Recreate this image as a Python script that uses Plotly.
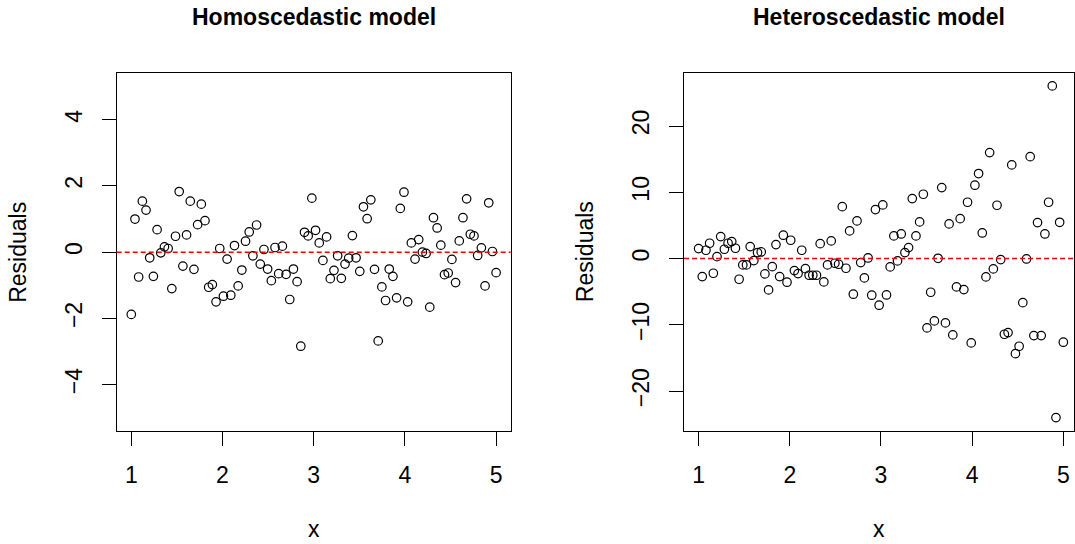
import plotly.graph_objects as go

# x grid (evenly spaced 1..5, 100 points)
x_vals = [1.0000, 1.0404, 1.0808, 1.1212, 1.1616, 1.2020, 1.2424, 1.2828, 1.3232, 1.3636,
          1.4040, 1.4444, 1.4848, 1.5253, 1.5657, 1.6061, 1.6465, 1.6869, 1.7273, 1.7677,
          1.8081, 1.8485, 1.8889, 1.9293, 1.9697, 2.0101, 2.0505, 2.0909, 2.1313, 2.1717,
          2.2121, 2.2525, 2.2929, 2.3333, 2.3737, 2.4141, 2.4545, 2.4949, 2.5354, 2.5758,
          2.6162, 2.6566, 2.6970, 2.7374, 2.7778, 2.8182, 2.8586, 2.8990, 2.9394, 2.9798,
          3.0202, 3.0606, 3.1010, 3.1414, 3.1818, 3.2222, 3.2626, 3.3030, 3.3434, 3.3838,
          3.4242, 3.4646, 3.5051, 3.5455, 3.5859, 3.6263, 3.6667, 3.7071, 3.7475, 3.7879,
          3.8283, 3.8687, 3.9091, 3.9495, 3.9899, 4.0303, 4.0707, 4.1111, 4.1515, 4.1919,
          4.2323, 4.2727, 4.3131, 4.3535, 4.3939, 4.4343, 4.4747, 4.5152, 4.5556, 4.5960,
          4.6364, 4.6768, 4.7172, 4.7576, 4.7980, 4.8384, 4.8788, 4.9192, 4.9596, 5.0000]

homo_resid = [-1.88, 1.00, -0.75, 1.54, 1.27, -0.17, -0.73, 0.68, -0.02, 0.16,
              0.11, -1.10, 0.48, 1.83, -0.42, 0.52, 1.54, -0.52, 0.83, 1.45,
              0.95, -1.06, -0.98, -1.50, 0.11, -1.33, -0.21, -1.30, 0.20, -1.02,
              -0.54, 0.33, 0.61, -0.11, 0.82, -0.36, 0.08, -0.51, -0.86, 0.14,
              -0.65, 0.18, -0.67, -1.43, -0.51, -0.89, -2.84, 0.60, 0.49, 1.63,
              0.66, 0.28, -0.25, 0.46, -0.80, -0.55, -0.11, -0.79, -0.36, -0.18,
              0.50, -0.17, -0.58, 1.37, 1.01, 1.58, -0.52, -2.68, -1.05, -1.46,
              -0.51, -0.73, -1.38, 1.32, 1.81, -1.50, 0.28, -0.21, 0.38, 0.00,
              -0.04, -1.66, 1.04, 0.73, 0.21, -0.68, -0.63, -0.22, -0.92, 0.34,
              1.04, 1.61, 0.54, 0.49, -0.10, 0.13, -1.02, 1.49, 0.02, -0.62]

hetero_resid = [1.51, -2.71, 1.26, 2.32, -2.21, 0.30, 3.32, 1.41, 2.32, 2.57,
                1.56, -3.11, -0.95, -0.95, 1.81, -0.30, 0.91, 1.01, -2.31, -4.72,
                -1.21, 2.11, -2.71, 3.53, -3.56, 2.77, -1.81, -2.26, 1.26, -1.51,
                -2.51, -2.51, -2.51, 2.26, -3.51, -0.95, 2.67, -0.70, -0.85, 7.84,
                -1.45, 4.18, -5.37, 5.69, -0.60, -2.91, 0.10, -5.52, 7.39, -7.03,
                8.10, -5.48, -1.25, 3.42, -0.35, 3.72, 0.91, 1.66, 9.05, 3.42,
                5.54, 9.71, -10.45, -5.07, -9.40, 0.05, 10.71, -9.70, 5.23, -11.51,
                -4.27, 6.03, -4.67, 8.50, -12.71, 11.07, 12.83, 3.87, -2.76, 15.99,
                -1.55, 8.05, -0.15, -11.41, -11.16, 14.13, -14.33, -13.22, -6.64, -0.05,
                15.38, -11.61, 5.43, -11.61, 3.72, 8.50, 26.05, -23.98, 5.48, -12.61]

x_ticks = [1, 2, 3, 4, 5]
x_ticktext = ["1", "2", "3", "4", "5"]
homo_yticks = [-4, -2, 0, 2, 4]
homo_yticktext = ["\u22124", "\u22122", "0", "2", "4"]
hetero_yticks = [-20, -10, 0, 10, 20]
hetero_yticktext = ["\u221220", "\u221210", "0", "10", "20"]
titles = ["Homoscedastic model", "Heteroscedastic model"]

W, H = 1075, 544
FONT = "Liberation Sans, Arial, Helvetica, sans-serif"
TICK_SIZE = 23
LAB_SIZE = 23
MAIN_SIZE = 23

# plot areas in pixels
left_px = (116.7, 510.7)
right_px = (684.0, 1074.0)
top_px, bot_px = 73.3, 431.0
ydom = [1 - bot_px / H, 1 - top_px / H]

fig = go.Figure()
marker = dict(symbol="circle-open", size=8.5, color="black", line=dict(width=1.2, color="black"))
fig.add_trace(go.Scatter(x=x_vals, y=homo_resid, mode="markers", marker=marker,
                         xaxis="x", yaxis="y", showlegend=False))
fig.add_trace(go.Scatter(x=x_vals, y=hetero_resid, mode="markers", marker=marker,
                         xaxis="x2", yaxis="y2", showlegend=False))

axis_common = dict(showline=True, mirror=True, linecolor="black", linewidth=1,
                   ticks="outside", ticklen=14, tickwidth=1, tickcolor="black",
                   showgrid=False, zeroline=False,
                   tickfont=dict(family=FONT, size=TICK_SIZE, color="black"))

fig.update_layout(
    width=W, height=H,
    margin=dict(l=0, r=0, t=0, b=0),
    paper_bgcolor="white", plot_bgcolor="white",
    xaxis=dict(domain=[left_px[0] / W, left_px[1] / W], range=[0.84, 5.16],
               tickvals=x_ticks, ticktext=x_ticktext, anchor="y",
               ticklabelstandoff=9, **axis_common),
    yaxis=dict(domain=ydom, range=[-5.4, 5.4], tickvals=homo_yticks,
               ticktext=homo_yticktext, tickangle=-90, anchor="x",
               ticklabelstandoff=11, **axis_common),
    xaxis2=dict(domain=[right_px[0] / W, right_px[1] / W], range=[0.84, 5.117],
                tickvals=x_ticks, ticktext=x_ticktext, anchor="y2",
                ticklabelstandoff=9, **axis_common),
    yaxis2=dict(domain=ydom, range=[-26.0, 27.95], tickvals=hetero_yticks,
                ticktext=hetero_yticktext, tickangle=-90, anchor="x2",
                ticklabelstandoff=11, **axis_common),
)

for xr, yr in (("x", "y"), ("x2", "y2")):
    fig.add_shape(type="line", xref=f"{xr} domain", x0=0, x1=1, yref=yr, y0=0, y1=0,
                  line=dict(color="red", width=1.5, dash="5px,3px"))

anns = []
for (lpx, rpx), title in zip((left_px, right_px), titles):
    cx = ((lpx + min(rpx, 1077.5)) / 2) / W
    anns.append(dict(text=f"<b>{title}</b>", x=cx, y=1 - 17 / H, xref="paper", yref="paper",
                     xanchor="center", yanchor="middle", showarrow=False,
                     font=dict(family=FONT, size=MAIN_SIZE, color="black")))
    anns.append(dict(text="x", x=cx, y=1 - 529 / H, xref="paper", yref="paper",
                     xanchor="center", yanchor="middle", showarrow=False,
                     font=dict(family=FONT, size=LAB_SIZE, color="black")))
    anns.append(dict(text="Residuals", x=(lpx - 99) / W, y=1 - ((top_px + bot_px) / 2) / H,
                     xref="paper", yref="paper", xanchor="center", yanchor="middle",
                     textangle=-90, showarrow=False,
                     font=dict(family=FONT, size=LAB_SIZE, color="black")))
fig.update_layout(annotations=anns)

fig.write_html("out.html")
